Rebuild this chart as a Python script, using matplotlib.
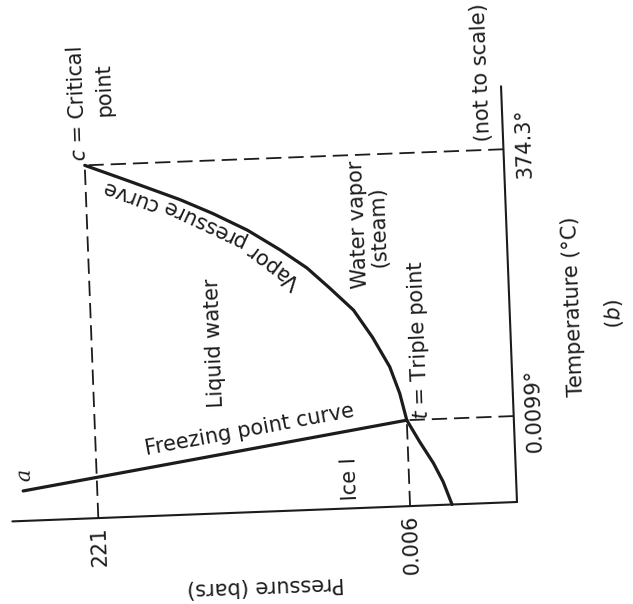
import numpy as np
import matplotlib.pyplot as plt
from matplotlib.transforms import Affine2D

# Phase diagram of water, schematic (not to scale).
# Positions are drawing units: t runs along the temperature axis,
# p along the pressure axis. The page is turned a quarter turn.
vapor_t = [86, 113, 140, 170, 198, 221, 242, 261, 282, 300, 315, 335, 353]
vapor_p = [107, 113, 122, 138, 156, 179, 201, 227, 259, 293, 325, 374, 419]
ice_t = [0, 23, 42, 64, 86]
ice_p = [65, 73, 82, 95, 107]
freeze_t = [30, 86]
freeze_p = [493, 107]

triple = (86, 107)
critical = (353, 419)
t_axis_len = 416
p_axis_len = 505

t_ticks = [86, 353]
t_labels = ['0.0099°', '374.3°']
p_ticks = [107, 419]
p_labels = ['0.006', '221']

turn = 92.2
ink = '#1c1c1c'
fs = 15


def main():
    plt.rcParams['lines.scale_dashes'] = False
    fig = plt.figure(figsize=(6.33, 6.04), dpi=100)
    ax = fig.add_axes([0, 0, 1, 1])
    ax.set_xlim(0, 633)
    ax.set_ylim(0, 604)
    ax.axis('off')

    tr = Affine2D().rotate_deg(turn).translate(517, 102) + ax.transData

    def line(t, p, **kw):
        ax.plot(t, p, transform=tr, color=ink, solid_capstyle='round',
                solid_joinstyle='round', **kw)

    def label(t, p, s, angle=0, **kw):
        kw.setdefault('ha', 'center')
        kw.setdefault('va', 'center')
        ax.text(t, p, s, transform=tr, rotation=angle + turn,
                rotation_mode='anchor', fontsize=fs, color=ink, **kw)

    # axes
    line([0, t_axis_len], [0, 0], lw=1.5)
    line([0, 0], [0, p_axis_len], lw=1.5)

    # guide lines from the triple and critical points
    dash = dict(lw=1.3, dashes=(11, 5))
    line([critical[0], critical[0]], [0, critical[1]], **dash)
    line([0, critical[0]], [critical[1], critical[1]], **dash)
    line([triple[0], triple[0]], [0, triple[1]], **dash)
    line([0, triple[0]], [triple[1], triple[1]], **dash)

    # phase boundaries
    line(vapor_t, vapor_p, lw=2.3)
    line(ice_t, ice_p, lw=2.3)
    line(freeze_t, freeze_p, lw=2.3)

    # tick labels
    for t, s in zip(t_ticks, t_labels):
        label(t + 5, -21, s)
    for p, s in zip(p_ticks, p_labels):
        label(-8, p, s, ha='right')

    label(193, -64, 'Temperature (°C)')
    label(185, -104, r'($b$)')
    label(-74, 254, 'Pressure (bars)', angle=90)
    label(431, 19, '(not to scale)')

    # point and region names
    label(415, 424, r'$c$ = Critical')
    label(428, 397, 'point')
    label(166, 92, r'$t$ = Triple point')
    label(171, 296, 'Liquid water')
    label(283, 148, 'Water vapor')
    label(280, 128, '(steam)')
    label(30, 166, 'Ice I')
    label(46, 491, 'a', family='DejaVu Serif', style='italic')

    # curve names
    dt = freeze_t[1] - freeze_t[0]
    dp = freeze_p[1] - freeze_p[0]
    label(82, 264, 'Freezing point curve', angle=np.degrees(np.arctan2(dp, dt)))
    for t, p, s, a in [(245, 234, 'Vapor', 143), (291, 303, 'pressure', 155),
                       (321, 376, 'curve', 160)]:
        ax.text(*tr.transform((t, p)), s, transform=None, rotation=a,
                rotation_mode='anchor', ha='center', va='center',
                fontsize=fs, color=ink)

    plt.savefig('out.png', dpi=100)


if __name__ == "__main__":
    main()
